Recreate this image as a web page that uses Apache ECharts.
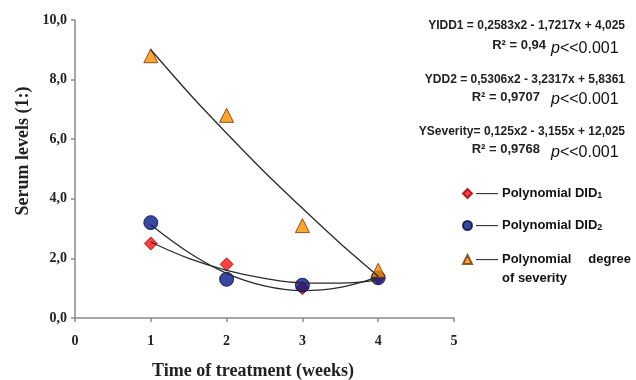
<!DOCTYPE html>
<html>
<head>
<meta charset="utf-8">
<script src="https://cdn.jsdelivr.net/npm/echarts@6/dist/echarts.min.js"></script>
<style>
  html, body { margin: 0; padding: 0; background: #fff; }
  #chart { width: 636px; height: 380px; }
</style>
</head>
<body>
<div id="chart"></div>
<script>
// measured points (weeks -> serum level)
const weeks = [1, 2, 3, 4];
const did1 = [2.5, 1.8, 1.0, 1.35];
const did2 = [3.2, 1.3, 1.1, 1.35];
const severity = [8.8, 6.8, 3.1, 1.6];

// trend lines
const trendX = [1, 1.5, 2, 2.5, 3, 3.5, 4];
const trendDid1 = [2.55, 2.0, 1.6, 1.33, 1.18, 1.17, 1.28];
const trendDid2 = [3.13, 2.2, 1.5, 1.08, 0.92, 1.03, 1.38];
const trendSev = [9.0, 7.55, 6.2, 4.9, 3.68, 2.5, 1.4];

const equations = [
    'YIDD1 = 0,2583x2 - 1,7217x + 4,025',
    'YDD2 = 0,5306x2 - 3,2317x + 5,8361',
    'YSeverity= 0,125x2 - 3,155x + 12,025'
];
const rSquared = ['R² = 0,94', 'R² = 0,9707', 'R² = 0,9768'];

const pairs = (xs, ys) => xs.map((x, i) => [x, ys[i]]);

const chart = echarts.init(document.getElementById('chart'));

const serif = '"Liberation Serif", "Times New Roman", serif';
const sans = '"Liberation Sans", Arial, sans-serif';

function trend(name, data, smooth) {
    return {
        name: name, type: 'line', data: data, smooth: smooth,
        showSymbol: false, silent: true, z: 5,
        lineStyle: { color: '#2a2a2a', width: 1.3 }
    };
}

function legendAt(name, top, text) {
    return {
        data: [name], left: 462, top: top, orient: 'vertical', padding: 0,
        itemWidth: 9, itemHeight: 9, itemGap: 0, selectedMode: false,
        formatter: () => text,
        textStyle: {
            fontFamily: sans, fontWeight: 'bold', fontSize: 13, color: '#111', padding: [0, 0, 0, -1],
            rich: {
                d: { fontSize: 11, color: '#333', fontFamily: sans },
                g: { width: 4 },
                w: { width: 17 },
                s: { fontSize: 9, fontWeight: 'bold', verticalAlign: 'bottom', lineHeight: 9, fontFamily: sans, color: '#111' }
            }
        }
    };
}

// equations block on the upper right
const eqY = [26, 80, 132];
const rY = [45, 97, 149];
const pY = [49, 100, 153];
const rRight = [546, 540, 540];
const eqGraphics = [];
equations.forEach((t, i) => {
    eqGraphics.push({
        type: 'text', x: 625, y: eqY[i],
        style: { text: t, font: 'bold 12px ' + sans, fill: '#222', textAlign: 'right', textVerticalAlign: 'middle' }
    });
    eqGraphics.push({
        type: 'text', x: rRight[i], y: rY[i],
        style: { text: rSquared[i], font: 'bold 13px ' + sans, fill: '#222', textAlign: 'right', textVerticalAlign: 'middle' }
    });
    eqGraphics.push({
        type: 'text', x: 551, y: pY[i],
        style: {
            text: '{i|p}<<0.001', font: '16px ' + sans, fill: '#111', textVerticalAlign: 'middle',
            rich: { i: { fontStyle: 'italic', fontSize: 16, fontFamily: sans } }
        }
    });
});

chart.setOption({
    animation: false,
    backgroundColor: '#fff',
    grid: { left: 75, right: 182, top: 20, bottom: 62 },
    xAxis: {
        type: 'value', min: 0, max: 5, interval: 1,
        splitLine: { show: false },
        axisLine: { lineStyle: { color: '#8a8a8a', width: 1.5 } },
        axisTick: { show: true, length: 4, lineStyle: { color: '#8a8a8a', width: 1.5 } },
        axisLabel: { fontFamily: serif, fontWeight: 'bold', fontSize: 14, color: '#222', margin: 16 }
    },
    yAxis: {
        type: 'value', min: 0, max: 10, interval: 2,
        splitLine: { show: false },
        axisLine: { show: true, lineStyle: { color: '#8a8a8a', width: 1.5 } },
        axisTick: { show: true, length: 4, lineStyle: { color: '#8a8a8a', width: 1.5 } },
        axisLabel: {
            fontFamily: serif, fontWeight: 'bold', fontSize: 14, color: '#222', margin: 8,
            formatter: v => v.toFixed(1).replace('.', ',')
        }
    },
    legend: [
        legendAt('Polynomial DID1', 187, '{d|——}{g| }Polynomial DID{s|1}'),
        legendAt('Polynomial DID2', 219, '{d|——}{g| }Polynomial DID{s|2}'),
        legendAt('Polynomial degree of severity', 253, '{d|——}{g| }Polynomial{w| }degree')
    ],
    series: [
        {
            name: 'Polynomial DID1', type: 'scatter', data: pairs(weeks, did1),
            symbol: 'diamond', symbolSize: 13, z: 2,
            itemStyle: { color: '#ff1010', borderColor: '#9a0000', borderWidth: 1 }
        },
        {
            name: 'Polynomial DID2', type: 'scatter', data: pairs(weeks, did2),
            symbol: 'circle', symbolSize: 14, z: 3,
            itemStyle: { color: '#06198a', borderColor: '#000a40', borderWidth: 1 }
        },
        {
            name: 'Polynomial degree of severity', type: 'scatter', data: pairs(weeks, severity),
            symbol: 'triangle', symbolSize: 14, z: 4,
            itemStyle: { color: '#ff8c00', borderColor: '#6a3800', borderWidth: 1 }
        },
        trend('trend DID1', pairs(trendX, trendDid1), 0.4),
        trend('trend DID2', pairs(trendX, trendDid2), 0.4),
        trend('trend severity', pairs(trendX, trendSev), 0.2)
    ],
    graphic: eqGraphics.concat([
        {
            type: 'text', x: 502, y: 278,
            style: { text: 'of severity', font: 'bold 13px ' + sans, fill: '#111', textVerticalAlign: 'middle' }
        },
        {
            type: 'text', x: 23, y: 151, rotation: Math.PI / 2,
            style: { text: 'Serum levels (1:)', font: 'bold 18px ' + serif, fill: '#222', textAlign: 'center', textVerticalAlign: 'middle' }
        },
        {
            type: 'text', x: 253, y: 371,
            style: { text: 'Time of treatment (weeks)', font: 'bold 18px ' + serif, fill: '#222', textAlign: 'center', textVerticalAlign: 'middle' }
        }
    ])
});
</script>
</body>
</html>
